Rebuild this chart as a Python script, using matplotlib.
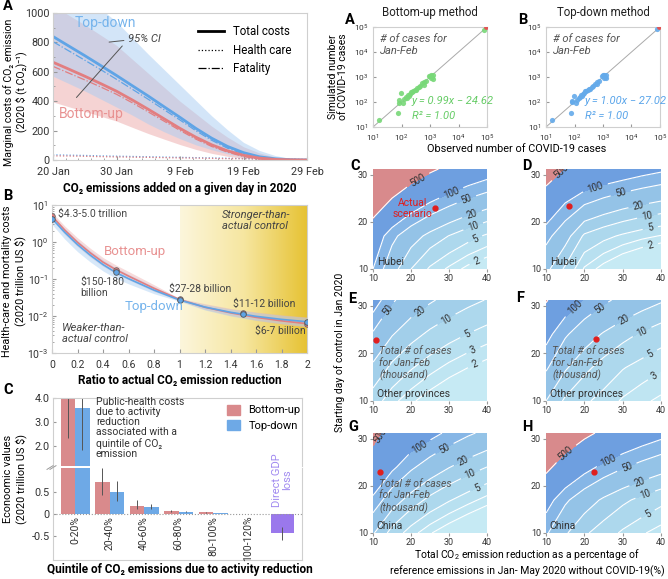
import numpy as np
import matplotlib.pyplot as plt
from matplotlib.colors import LinearSegmentedColormap
from matplotlib.lines import Line2D
from matplotlib.patches import Patch

plt.rcParams['font.family'] = ['Roboto', 'DejaVu Sans']
plt.rcParams['mathtext.default'] = 'regular'
plt.rcParams['axes.edgecolor'] = '#cfcfcf'
plt.rcParams['axes.linewidth'] = 0.8
plt.rcParams['xtick.color'] = '#999999'
plt.rcParams['ytick.color'] = '#999999'
plt.rcParams['xtick.labelcolor'] = '#333333'
plt.rcParams['ytick.labelcolor'] = '#333333'

# ---------------- data: left A (marginal costs by day) ----------------
days = [0, 2.5, 5, 7.5, 10, 12.5, 15, 17.5, 20, 22.5, 25, 27.5, 30, 32.5, 35, 37.5, 40]
day_ticks = [0, 10, 20, 30, 40]
day_labels = ['20 Jan', '30 Jan', '9 Feb', '19 Feb', '29 Feb']
td_total = [840, 775, 710, 643, 575, 505, 435, 362, 290, 215, 148, 92, 50, 22, 8, 2, 0]
bu_total = [665, 618, 570, 520, 468, 408, 345, 280, 215, 155, 103, 62, 32, 13, 4, 1, 0]
td_health = [35, 33, 31, 28, 26, 24, 22, 20, 18, 16, 14, 12, 10, 8, 6, 5, 4]
bu_health = [28, 27, 25, 23, 21, 19, 18, 16, 14, 13, 11, 9, 8, 6, 5, 4, 3]
td_fatal = [805, 742, 679, 615, 549, 481, 413, 342, 272, 199, 134, 80, 40, 14, 2, 0, 0]
bu_fatal = [637, 591, 545, 497, 447, 389, 327, 264, 201, 142, 92, 53, 24, 7, 0, 0, 0]
td_lo = [570, 520, 470, 415, 360, 305, 245, 192, 145, 103, 70, 42, 20, 9, 3, 1, 0]
td_hi = [1300, 1210, 1120, 1030, 940, 830, 720, 615, 510, 405, 300, 205, 120, 65, 30, 10, 5]
bu_lo = [395, 362, 330, 298, 265, 222, 180, 142, 105, 72, 45, 25, 12, 5, 2, 1, 0]
bu_hi = [1050, 985, 920, 850, 780, 685, 590, 495, 400, 315, 230, 155, 90, 48, 20, 8, 3]

# ---------------- data: left B (costs vs ratio) ----------------
ratio = [0, 0.1, 0.2, 0.3, 0.4, 0.5, 0.6, 0.8, 1.0, 1.2, 1.4, 1.6, 1.8, 2.0]
td_cost = [4.3, 1.82, 0.85, 0.44, 0.245, 0.15, 0.102, 0.050, 0.027, 0.0174, 0.0126, 0.0098, 0.0081, 0.0070]
bu_cost = [5.0, 2.1, 0.98, 0.51, 0.285, 0.18, 0.12, 0.056, 0.028, 0.0172, 0.0122, 0.0092, 0.0074, 0.0062]
td_cost_lo = [3.0, 1.2, 0.55, 0.29, 0.165, 0.105, 0.074, 0.040, 0.025, 0.0145, 0.0100, 0.0076, 0.0062, 0.0052]
td_cost_hi = [5.0, 2.3, 1.1, 0.58, 0.33, 0.2, 0.135, 0.062, 0.029, 0.0205, 0.0155, 0.0125, 0.0105, 0.0092]
bu_cost_lo = [4.0, 1.6, 0.75, 0.39, 0.22, 0.14, 0.095, 0.046, 0.026, 0.0150, 0.0104, 0.0077, 0.0061, 0.0050]
bu_cost_hi = [6.3, 2.7, 1.3, 0.68, 0.38, 0.24, 0.16, 0.070, 0.030, 0.0215, 0.0160, 0.0128, 0.0108, 0.0094]
ratio_pts = [0, 0.5, 1, 1.5, 2]
bu_pts = [5.0, 0.18, 0.028, 0.012, 0.0062]
td_pts = [4.3, 0.15, 0.027, 0.011, 0.0070]

# ---------------- data: left C (bars) ----------------
quintiles = ['0-20%', '20-40%', '40-60%', '60-80%', '80-100%', '100-120%']
bu_vals = [4.0, 0.72, 0.19, 0.07, 0.035, 0.0]
td_vals = [3.6, 0.51, 0.15, 0.05, 0.02, 0.0]
bu_err_lo = [2.35, 0.43, 0.12, 0.05, 0.025, 0.0]
bu_err_hi = [4.6, 1.05, 0.32, 0.09, 0.045, 0.0]
td_err_lo = [1.85, 0.29, 0.12, 0.04, 0.015, 0.0]
td_err_hi = [4.6, 0.76, 0.22, 0.06, 0.025, 0.0]
gdp_loss = -0.44
gdp_err = [-0.6, -0.29]

# ---------------- data: right A/B (scatter) ----------------
obs_cases = [16, 75, 80, 84, 95, 110, 125, 140, 150, 165, 185, 200, 215, 240, 260, 290,
             320, 350, 400, 450, 520, 600, 640, 700, 900, 1000, 1050, 1100, 1150, 1250, 1300, 76000]
bu_sim = [19, 36, 95, 115, 220, 90, 130, 160, 145, 190, 175, 215, 240, 260, 265, 300,
          310, 360, 400, 420, 560, 620, 500, 680, 1050, 1100, 900, 1150, 1000, 850, 1200, 78000]
td_sim = [19, 36, 100, 110, 170, 95, 120, 150, 160, 185, 170, 210, 235, 270, 270, 290,
          330, 340, 390, 430, 540, 640, 520, 700, 1050, 1150, 950, 1200, 1000, 880, 1150, 80000]
total_obs = [90000]
total_sim = [98000]

# ---------------- data: right C-H (cases, thousand) ----------------
grid_x = [10, 15, 20, 25, 30, 35, 40]
grid_y = [10, 17, 24, 31.2]
case_levels = [2, 3, 5, 10, 20, 50, 100, 500]
hubei_bu = [[100, 28, 10, 4.5, 2.7, 1.7, 1.26],
            [190, 63, 29, 16, 9.8, 6.5, 4.5],
            [1140, 385, 177, 97, 60, 39, 28],
            [7300, 2460, 1140, 620, 380, 250, 176]]
hubei_td = [[25, 8.9, 2.8, 1.6, 1.0, 0.71, 0.5],
            [65, 28, 8.9, 6.1, 4.5, 3.5, 2.9],
            [229, 100, 55, 38, 28, 22, 18],
            [1100, 480, 302, 234, 188, 147, 119]]
other_bu = [[7.1, 3.5, 2.2, 1.5, 1.09, 0.84, 0.67],
            [17.1, 8.6, 5.3, 3.6, 2.6, 2.0, 1.6],
            [45, 21, 12.8, 8.7, 6.4, 4.9, 3.9],
            [158, 56, 32, 22, 16, 12.2, 9.7]]
other_td = [[20, 8.9, 5.6, 4.0, 2.8, 2.2, 1.8],
            [56, 22, 12, 7.6, 5.2, 4.0, 3.2],
            [133, 56, 30, 18.6, 12.6, 9.1, 6.8],
            [562, 177, 96, 59, 40, 29, 22]]
china_bu = [[21.6, 7.7, 3.7, 2.1, 1.34, 0.90, 0.64],
            [85, 30, 14.7, 8.3, 5.3, 3.6, 2.5],
            [282, 120, 58, 33, 20.7, 14.0, 10.0],
            [708, 316, 200, 134, 85, 57, 41]]
china_td = [[56, 22, 11.2, 7.1, 4.5, 3.2, 2.4],
            [147, 58, 30, 17.8, 11.7, 8.2, 6.0],
            [679, 267, 138, 82, 54, 38, 28],
            [3280, 1290, 665, 398, 262, 184, 135]]
actual_x = [26.4, 15.9, 10.9, 23.1, 11.8, 22.6]
actual_y = [22.9, 23.3, 22.8, 23.0, 23.0, 22.9]

RED = '#e27e80'
BLUE = '#5fa4e6'
RED_BAR = '#d98a8c'
BLUE_BAR = '#6ea9e6'
PURPLE = '#9a78ec'
GRAY = '#444444'

fig = plt.figure(figsize=(6.68, 5.79), dpi=100)


def px_axes(l, t, r, b):
    return fig.add_axes([l / 668, 1 - b / 579, (r - l) / 668, (b - t) / 579])


def fig_text(x, y, s, **kw):
    return fig.text(x / 668, 1 - y / 579, s, **kw)


# ================= left A =================
axA = px_axes(53, 13, 307, 160)
axA.fill_between(days, bu_lo, bu_hi, color='#eeb0b0', alpha=0.55, lw=0)
axA.fill_between(days, td_lo, td_hi, color='#a8cdf3', alpha=0.5, lw=0)
axA.plot(days, td_health, color=BLUE, lw=0.9, ls=':')
axA.plot(days, bu_health, color=RED, lw=0.9, ls=':')
axA.plot(days, td_fatal, color=BLUE, lw=0.9, ls='-.')
axA.plot(days, bu_fatal, color=RED, lw=0.9, ls='-.')
axA.plot(days, td_total, color=BLUE, lw=2)
axA.plot(days, bu_total, color=RED, lw=2)
axA.set_xlim(0, 40)
axA.set_ylim(0, 1000)
axA.set_xticks(day_ticks)
axA.set_xticklabels(day_labels)
axA.set_xticks(np.arange(0, 41, 2), minor=True)
axA.set_yticks(np.arange(0, 1001, 200))
axA.set_yticks(np.arange(0, 1001, 100), minor=True)
axA.tick_params(labelsize=7.8, direction='in', length=3, pad=2.5)
axA.tick_params(axis='x', pad=5)
axA.tick_params(which='minor', direction='in', length=1.5)
axA.set_xlabel('CO₂ emissions added on a given day in 2020', fontsize=8.5, fontweight='bold', labelpad=4)
fig_text(15, 92, 'Marginal costs of CO₂ emission\n(2020 \\$ (t CO₂)⁻¹)', rotation=90, ha='center',
         va='center', fontsize=7.6, linespacing=1.15)
axA.text(3.4, 935, 'Top-down', color='#76b4ec', fontsize=10, va='center')
axA.text(1.0, 310, 'Bottom-up', color='#e89292', fontsize=10, va='center')
axA.text(11.8, 826, '95% CI', fontsize=8, style='italic', color=GRAY, va='center')
axA.annotate('', xy=(8.4, 800), xytext=(11.6, 815), arrowprops=dict(arrowstyle='-', color='#555', lw=0.7))
axA.annotate('', xy=(3.4, 411), xytext=(11.2, 790), arrowprops=dict(arrowstyle='-', color='#555', lw=0.7))
handles = [Line2D([], [], color='k', lw=2), Line2D([], [], color='k', lw=0.9, ls=':'),
           Line2D([], [], color='k', lw=0.9, ls='-.')]
axA.legend(handles, ['Total costs', 'Health care', 'Fatality'], loc='upper right', frameon=False,
           fontsize=8.3, handlelength=2.2, labelspacing=0.5, bbox_to_anchor=(0.98, 0.99))

# ================= left B =================
axB = px_axes(52, 205, 307, 353)
ycmap = LinearSegmentedColormap.from_list('yel', ['#fcf6dc', '#f6e6a0', '#e6c232'])
axB.imshow(np.linspace(0, 1, 256)[None, :], extent=[0.5, 1, 0, 1], transform=axB.transAxes,
           aspect='auto', cmap=ycmap, zorder=0)
axB.set_yscale('log')
axB.fill_between(ratio, bu_cost_lo, bu_cost_hi, color='#eeb0b0', alpha=0.45, lw=0, zorder=1)
axB.fill_between(ratio, td_cost_lo, td_cost_hi, color='#a8cdf3', alpha=0.45, lw=0, zorder=1)
axB.plot(ratio, bu_cost, color=RED, lw=1.2, zorder=2)
axB.plot(ratio, td_cost, color=BLUE, lw=1.2, zorder=2)
axB.plot(ratio_pts, bu_pts, 'o', mfc=RED, mec='#666', ms=4, mew=0.6, zorder=3)
axB.plot(ratio_pts, td_pts, 'o', mfc=BLUE, mec='#555', ms=4, mew=0.6, zorder=3)
axB.set_xlim(0, 2)
axB.set_ylim(1e-3, 10)
axB.set_xticks(np.arange(0, 2.01, 0.2))
axB.set_xticklabels(['0', '0.2', '0.4', '0.6', '0.8', '1', '1.2', '1.4', '1.6', '1.8', '2'])
axB.set_yticks([1e-3, 1e-2, 1e-1, 1, 10])
axB.set_yticklabels(['$10^{-3}$', '$10^{-2}$', '$10^{-1}$', '$10^{0}$', '$10^{1}$'])
axB.tick_params(labelsize=7.5, direction='in', length=3, pad=2.5)
axB.tick_params(axis='x', pad=5)
axB.tick_params(which='minor', direction='in', length=1.5)
axB.set_xlabel('Ratio to actual CO₂ emission reduction', fontsize=8.5, fontweight='bold', labelpad=3)
fig_text(14, 281, 'Health-care and mortality costs\n(2020 trillion US \\$)', rotation=90, ha='center',
         va='center', fontsize=7.8, linespacing=1.15)
tkw = dict(fontsize=7.5, color=GRAY, va='center')
axB.text(0.05, 5.9, '\\$4.3-5.0 trillion', **tkw)
axB.text(0.22, 0.059, '\\$150-180\nbillion', linespacing=1.1, **tkw)
axB.text(0.92, 0.055, '\\$27-28 billion', **tkw)
axB.text(1.42, 0.021, '\\$11-12 billion', **tkw)
axB.text(1.595, 0.0039, '\\$6-7 billion', **tkw)
axB.text(0.405, 0.57, 'Bottom-up', color='#e89292', fontsize=9.5, va='center')
axB.text(0.567, 0.0176, 'Top-down', color='#76b4ec', fontsize=9.5, va='center')
axB.text(1.33, 3.9, 'Stronger-than-\nactual control', fontsize=8, style='italic', color=GRAY,
         va='center', linespacing=1.1)
axB.text(0.08, 0.0033, 'Weaker-than-\nactual control', fontsize=8, style='italic', color=GRAY,
         va='center', linespacing=1.1)

# ================= left C (broken axis bars) =================
axCt = px_axes(53, 398, 302, 466)
axCb = px_axes(53, 468, 302, 560)
grp = np.arange(len(quintiles))
for ax in (axCt, axCb):
    ax.bar(grp - 0.21, bu_vals, 0.42, color=RED_BAR)
    ax.bar(grp + 0.21, td_vals, 0.42, color=BLUE_BAR)
    ax.bar(6, gdp_loss, 0.67, color=PURPLE)
    ax.vlines(grp - 0.21, bu_err_lo, bu_err_hi, color='#555', lw=0.7)
    ax.vlines(grp + 0.21, td_err_lo, td_err_hi, color='#555', lw=0.7)
    ax.vlines(6, gdp_err[0], gdp_err[1], color='#555', lw=0.7)
    ax.set_xlim(-0.64, 6.57)
    ax.set_xticks([])
    ax.tick_params(labelsize=7.8, direction='in', length=2, pad=2.5)
axCt.set_ylim(1.17, 4.02)
axCt.set_yticks([2, 3, 4])
axCt.set_yticklabels(['2.0', '3.0', '4.0'])
axCt.spines['bottom'].set_visible(False)
axCb.set_ylim(-1.05, 1.05)
axCb.set_yticks([-0.5, 0, 0.5])
axCb.set_yticklabels(['-0.5', '0', '0.5'])
axCb.spines['top'].set_visible(False)
axCb.axhline(0, color='#999', ls=':', lw=0.8)
for i, lab in enumerate(quintiles):
    axCb.text(i, -0.04, lab, rotation=90, ha='center', va='top', fontsize=7.5, color='#333')
axCb.text(6, 0.17, 'Direct GDP\nloss', rotation=90, ha='center', va='bottom', fontsize=8,
          color='#a089f0', linespacing=1.0)
for dx in (-0.012, 0.0):
    axCb.plot([-0.012 + dx, 0.012 + dx], [0.985, 1.025], transform=axCb.transAxes, color='#999',
              lw=0.7, clip_on=False)
axCt.legend([Patch(color=RED_BAR), Patch(color=BLUE_BAR)], ['Bottom-up', 'Top-down'],
            loc='upper left', bbox_to_anchor=(0.66, 1.05), frameon=False, fontsize=8,
            handlelength=1.1, handleheight=1.0, labelspacing=0.4)
fig_text(96, 397, 'Public-health costs\ndue to activity\nreduction\nassociated with a\n'
         'quintile of CO₂\nemission', fontsize=7.5, color='#333', va='top', linespacing=1.02)
fig_text(15, 479, 'Econoomic values\n(2020 trillion US \\$)', rotation=90,
         ha='center', va='center', fontsize=7.8, linespacing=1.15)
fig_text(180, 570, 'Quintile of CO₂ emissions due to activity reduction',
         ha='center', va='center', fontsize=8.5, fontweight='bold')

# ================= right A/B scatter =================
sc_specs = [((373, 27, 487, 127), bu_sim, '#78d878', 'Bottom-up method', 'y = 0.99x − 24.62', '#66cc66'),
            ((546, 27, 660, 127), td_sim, '#64aaea', 'Top-down method', 'y = 1.00x − 27.02', '#5aa5ea')]
for box, sim, col, title, eq, tcol in sc_specs:
    ax = px_axes(*box)
    ax.set_xscale('log')
    ax.set_yscale('log')
    ax.plot([10, 1e5], [10, 1e5], color='#aaaaaa', lw=0.7)
    ax.scatter(obs_cases, sim, s=14, color=col, alpha=0.9, lw=0, zorder=3)
    ax.scatter(total_obs, total_sim, s=12, color='#e05555', lw=0, zorder=4)
    ax.set_xlim(10, 1e5)
    ax.set_ylim(10, 1e5)
    ax.set_xticks([1e1, 1e2, 1e3, 1e4, 1e5])
    ax.set_yticks([1e1, 1e2, 1e3, 1e4, 1e5])
    ax.set_xticklabels(['$10^1$', '$10^2$', '$10^3$', '$10^4$', '$10^5$'])
    ax.set_yticklabels(['$10^1$', '$10^2$', '$10^3$', '$10^4$', '$10^5$'])
    ax.minorticks_off()
    ax.tick_params(labelsize=6, direction='in', length=2)
    ax.tick_params(axis='x', pad=4)
    ax.tick_params(axis='y', pad=3)
    ax.set_title(title, fontsize=8.3, pad=8, color='#222')
    ax.text(0.06, 0.93, '# of cases for\nJan-Feb', transform=ax.transAxes, fontsize=8, style='italic',
            color='#555', va='top', linespacing=1.25)
    ax.text(0.34, 0.26, eq, transform=ax.transAxes, fontsize=8, style='italic',
            color=tcol, va='center')
    ax.text(0.34, 0.11, 'R² = 1.00', transform=ax.transAxes, fontsize=8, style='italic',
            color=tcol, va='center')
fig_text(338, 77, 'Simulated number\nof COVID-19 cases', rotation=90, ha='center',
         va='center', fontsize=7.5, linespacing=1.1)
fig_text(517, 149, 'Observed number of COVID-19 cases', ha='center', va='center', fontsize=7.8)

# ================= right C-H contour maps =================
band_bounds = [-3, np.log10(2), np.log10(3), np.log10(5), 1, np.log10(20), np.log10(50), 2,
               np.log10(500), 6]
band_colors = ['#c6eaf4', '#bfe5f2', '#b8e0f0', '#add8ed', '#a2cfea', '#94c3e7', '#86b6e6',
               '#6e9fe0', '#d88a8c']

panels = [
    ((373, 169, 487, 269), hubei_bu, 'Hubei',
     [(500, (21.3, 29.6)), (100, (30.4, 26.5)), (50, (34.6, 24.7)), (20, (36.1, 21.5)),
      (10, (36.5, 18.7)), (5, (37, 16.2)), (2, (37.4, 11.4))], False),
    ((546, 169, 661, 269), hubei_td, 'Hubei',
     [(500, (14.8, 30)), (100, (22.5, 28.2)), (50, (29.2, 27)), (20, (34, 24.1)),
      (10, (36.3, 21.9)), (5, (37.2, 18.7)), (2, (37.2, 15.2))], False),
    ((373, 300, 487, 401), other_bu, 'Other provinces',
     [(50, (12.2, 30)), (20, (21.7, 29.5)), (10, (29.3, 27.2)), (5, (34.8, 24)),
      (3, (36.5, 20.5)), (2, (37.6, 16.3))], True),
    ((546, 300, 661, 401), other_td, 'Other provinces',
     [(100, (17.6, 29.6)), (50, (24.1, 29.4)), (20, (30.4, 26.9)), (10, (35, 24.6)),
      (5, (36.5, 20.9)), (3, (37.6, 16.2))], True),
    ((373, 433, 487, 533), china_bu, 'China',
     [(500, (12.7, 30.3)), (100, (21.4, 29.3)), (50, (28.6, 28.2)), (20, (33.8, 25.2)),
      (10, (35.6, 22.5)), (5, (37.7, 19.1))], True),
    ((546, 433, 661, 533), china_td, 'China',
     [(500, (14.7, 27.4)), (100, (26.3, 25.4)), (50, (31.3, 23.5)), (20, (34.6, 20.2)),
      (10, (36.2, 17.4)), (5, (37.2, 13.2))], False),
]
for k, (box, grid, region, labs, show_total) in enumerate(panels):
    ax = px_axes(*box)
    Z = np.log10(np.array(grid, dtype=float))
    ax.contourf(grid_x, grid_y, Z, levels=band_bounds, colors=band_colors)
    label_at = dict(labs)
    for lev in case_levels:
        lz = np.log10(lev)
        if not (Z.min() < lz < Z.max()):
            continue
        cl = ax.contour(grid_x, grid_y, Z, levels=[lz], colors='white', linewidths=0.8)
        if lev in label_at:
            ax.clabel(cl, manual=[label_at[lev]], inline=True, fontsize=7, colors='#333',
                      fmt=lambda v: f'{10 ** v:.0f}')
    ax.plot(actual_x[k], actual_y[k], 'o', color='#e01e1e', ms=3.5, zorder=5)
    ax.set_xlim(10, 40)
    ax.set_ylim(10, 31.2)
    ax.set_xticks([10, 20, 30, 40])
    ax.set_yticks([10, 20, 30])
    for s in ax.spines.values():
        s.set_visible(False)
    ax.tick_params(labelsize=6.5, length=2, pad=1.5)
    ax.text(11, 11.4, region, fontsize=7.5, color='#333', va='center')
    if show_total:
        ax.text(11.6, 17.8, 'Total # of cases\nfor Jan-Feb\n(thousand)', fontsize=7.5,
                style='italic', color='#555', va='center', linespacing=1.2)
    if k == 0:
        ax.text(20.4, 22.9, 'Actual\nscenario', fontsize=7.5, color='#e01e1e', ha='center',
                va='center', linespacing=1.1)

fig_text(340, 352, 'Starting day of control in Jan 2020', rotation=90,
         ha='center', va='center', fontsize=7.5)
fig_text(527, 562, 'Total CO$_2$ emission reduction as a percentage of\n'
         'reference emissions in Jan- May 2020 without COVID-19(%)', ha='center', va='center',
         fontsize=7.5, linespacing=1.3)

# panel letters
for lab, x, y in [('A', 3, 6), ('B', 3, 196), ('C', 3, 390), ('A', 345, 20), ('B', 518, 20),
                  ('C', 350, 166), ('D', 522, 166), ('E', 348, 299), ('F', 516, 298),
                  ('G', 348, 427), ('H', 522, 427)]:
    fig_text(x, y, lab, fontsize=10.5, fontweight='bold', va='center')

fig.savefig('out.png', dpi=100)
